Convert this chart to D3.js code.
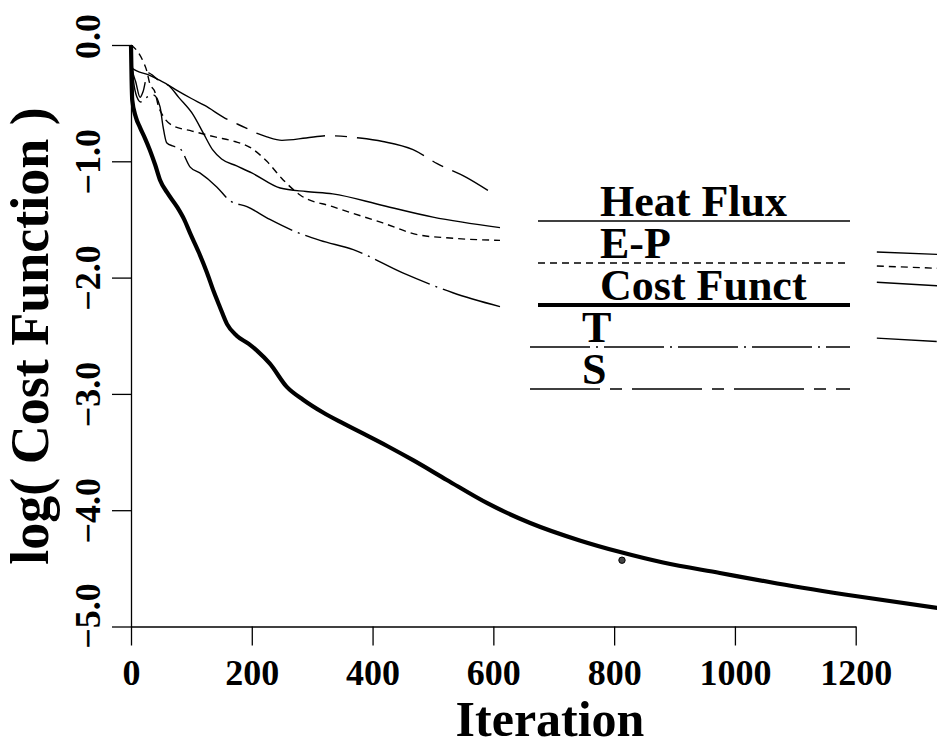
<!DOCTYPE html>
<html>
<head>
<meta charset="utf-8">
<script src="https://cdn.jsdelivr.net/npm/d3@7"></script>
<style>
    body { margin: 0; background: #fff; }
    svg text { font-family: "Liberation Serif", "Times New Roman", serif; font-weight: bold; fill: #000; }
</style>
</head>
<body>
<div id="chart"></div>
<script>

// values: [iteration, log(cost)]; null = hidden behind the legend
const heatFlux = [[0, 0], [2, -0.2], [30, -0.26], [46, -0.3], [63, -0.35], [79, -0.45], [103, -0.6], [120, -0.76],
    [135, -0.9], [150, -0.98], [175, -1.04], [200, -1.1], [247, -1.23], [290, -1.26], [334, -1.28], [417, -1.38],
    [500, -1.48], [611, -1.57], [900, null], [1235, -1.78], [1335, -1.8]];

const eMinusP = [[0, 0], [10, -0.05], [20, -0.14], [26, -0.22], [31, -0.33], [40, -0.41], [45, -0.52], [53, -0.61],
    [68, -0.69], [101, -0.74], [139, -0.79], [172, -0.83], [197, -0.88], [225, -1.0], [252, -1.16], [280, -1.29],
    [334, -1.39], [417, -1.53], [474, -1.63], [528, -1.66], [611, -1.68], [900, null], [1235, -1.9], [1335, -1.92]];

const costFunct = [[0, 0], [1, -0.3], [2, -0.47], [8, -0.62], [15, -0.71], [23, -0.8], [31, -0.9], [40, -1.03],
    [48, -1.16], [60, -1.27], [76, -1.39], [88, -1.5], [98, -1.62], [112, -1.78], [126, -1.96], [137, -2.12],
    [147, -2.25], [159, -2.4], [175, -2.5], [195, -2.57], [209, -2.63], [230, -2.74], [258, -2.94], [285, -3.05],
    [318, -3.16], [350, -3.25], [384, -3.34], [425, -3.45], [467, -3.57], [523, -3.74], [590, -3.94], [661, -4.11],
    [743, -4.26], [810, -4.36], [881, -4.45], [975, -4.54], [1070, -4.63], [1202, -4.74], [1335, -4.84]];

const tSeries = [[0, 0], [4, -0.3], [10, -0.45], [16, -0.49], [26, -0.45], [37, -0.43], [48, -0.53], [53, -0.7],
    [59, -0.84], [70, -0.87], [81, -0.89], [98, -1.05], [114, -1.1], [142, -1.22], [164, -1.34], [192, -1.39],
    [230, -1.5], [270, -1.6], [313, -1.68], [368, -1.76], [450, -1.96], [533, -2.13], [611, -2.25], [900, null],
    [1235, -2.52], [1335, -2.55]];

const sSeries = [[0, 0], [2, -0.2], [8, -0.32], [15, -0.45], [20, -0.4], [28, -0.24], [45, -0.3], [60, -0.34],
    [76, -0.39], [100, -0.46], [122, -0.52], [156, -0.63], [189, -0.71], [209, -0.76], [225, -0.79], [250, -0.82],
    [290, -0.8], [325, -0.78], [379, -0.8], [417, -0.83], [467, -0.9], [507, -1.02], [556, -1.14], [591, -1.25],
    [900, null], [1235, -2.04], [1335, -2.07]];

const specks = [[813, -4.43]];

const legendLabels = ["Heat Flux", "E-P", "Cost Funct", "T", "S"];
const xTicks = [0, 200, 400, 600, 800, 1000, 1200];
const yTicks = [0, -1, -2, -3, -4, -5];

var width = 937;
var height = 748;

var svg = d3.select("#chart")
    .append("svg")
    .attr("width", width)
    .attr("height", height);

var xScale = d3.scaleLinear().domain([0, 1200]).range([131, 855.7]);
var yScale = d3.scaleLinear().domain([0, -5]).range([45, 626.5]);

// line style for each series, same order as the legend
var series = [
    { name: legendLabels[0], values: heatFlux, dash: null, w: 1.4, textX: 600, lineX: 538 },
    { name: legendLabels[1], values: eMinusP, dash: "7,5", w: 1.4, textX: 600, lineX: 538 },
    { name: legendLabels[2], values: costFunct, dash: null, w: 4.2, textX: 600, lineX: 538 },
    { name: legendLabels[3], values: tSeries, dash: "60,6,2,6", w: 1.4, textX: 582, lineX: 530 },
    { name: legendLabels[4], values: sSeries, dash: "70,10,12,10", w: 1.4, textX: 582, lineX: 530 }
];

/*
AXES
*/
svg.append("g")
    .attr("transform", "translate(0,626.5)")
    .call(d3.axisBottom(xScale).tickValues(xTicks).tickSize(19).tickSizeOuter(0).tickFormat(d3.format("d")))
    .call(g => g.selectAll("path, line").attr("stroke-width", 1.3))
    .selectAll("text")
    .attr("dy", 0)
    .attr("y", 58)
    .style("font-size", "36px");

// the end labels sit a little above their ticks in the original
svg.append("g")
    .attr("transform", "translate(131,0)")
    .call(d3.axisLeft(yScale).tickValues(yTicks).tickSize(19).tickSizeOuter(0).tickFormat(d3.format(".1f")))
    .call(g => g.selectAll("path, line").attr("stroke-width", 1.3))
    .selectAll("text")
    .attr("x", null)
    .attr("dy", null)
    .attr("text-anchor", "middle")
    .attr("transform", d => `translate(-31,${d === 0 ? -9 : d === -5 ? -11 : 0}) rotate(-90)`)
    .style("font-size", "36px");

svg.append("text")
    .attr("x", 550)
    .attr("y", 736)
    .attr("text-anchor", "middle")
    .style("font-size", "50px")
    .text("Iteration");

svg.append("text")
    .attr("transform", "translate(48,336) rotate(-90)")
    .attr("text-anchor", "middle")
    .style("font-size", "54px")
    .text("log( Cost Function )");

/*
LINES
*/
var line = d3.line()
    .defined(d => d[1] !== null)
    .x(d => xScale(d[0]))
    .y(d => yScale(d[1]))
    .curve(d3.curveMonotoneX);

svg.selectAll(".series")
    .data(series)
    .join("path")
    .attr("class", "series")
    .attr("d", d => line(d.values))
    .attr("fill", "none")
    .attr("stroke", "#000")
    .attr("stroke-width", d => d.w)
    .attr("stroke-dasharray", d => d.dash);

svg.selectAll(".speck")
    .data(specks)
    .join("circle")
    .attr("class", "speck")
    .attr("cx", d => xScale(d[0]))
    .attr("cy", d => yScale(d[1]))
    .attr("r", 3.2)
    .attr("fill", "#444")
    .attr("stroke", "#000")
    .attr("stroke-width", 1);

/*
LEGEND
*/
var legend = svg.selectAll(".legend")
    .data(series)
    .join("g")
    .attr("class", "legend")
    .attr("transform", (d, i) => `translate(0,${221 + i * 42})`);

legend.append("line")
    .attr("x1", d => d.lineX)
    .attr("x2", 850)
    .attr("stroke", "#000")
    .attr("stroke-width", d => d.w)
    .attr("stroke-dasharray", d => d.dash);

legend.append("text")
    .attr("x", d => d.textX)
    .attr("y", -5)
    .style("font-size", "44px")
    .text(d => d.name);

</script>
</body>
</html>
